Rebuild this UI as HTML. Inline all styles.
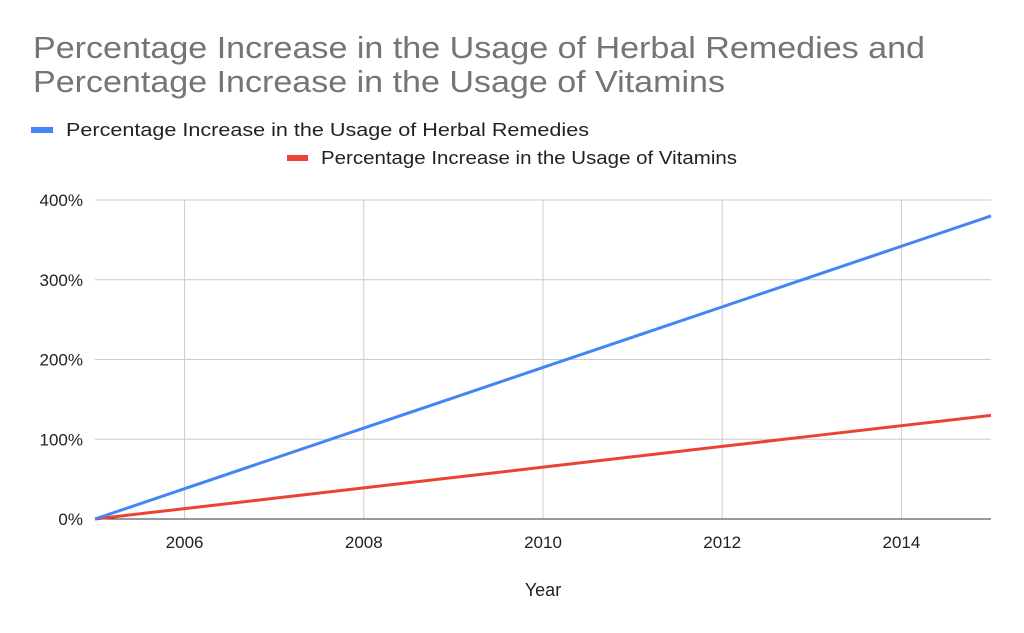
<!DOCTYPE html>
<html><head><meta charset="utf-8"><style>
body{margin:0;background:#fff;}
svg{display:block;font-family:"Liberation Sans",Arial,sans-serif;}
</style></head><body>
<svg id="chart" width="1024" height="633" viewBox="0 0 1024 633">
<rect width="1024" height="633" fill="#fff"/>
<text x="33" y="58" font-size="31" fill="#757575" textLength="892" lengthAdjust="spacingAndGlyphs">Percentage Increase in the Usage of Herbal Remedies and</text>
<text x="33" y="92" font-size="31" fill="#757575" textLength="692" lengthAdjust="spacingAndGlyphs">Percentage Increase in the Usage of Vitamins</text>
<g>
<rect x="31" y="127" width="22" height="6" fill="#4285f4"/>
<text x="66" y="136" font-size="18" fill="#222" textLength="523" lengthAdjust="spacingAndGlyphs">Percentage Increase in the Usage of Herbal Remedies</text>
</g>
<g>
<rect x="287" y="155" width="21" height="6" fill="#ea4335"/>
<text x="321" y="164" font-size="18" fill="#222" textLength="416" lengthAdjust="spacingAndGlyphs">Percentage Increase in the Usage of Vitamins</text>
</g>
<g id="grid"></g>
<g id="series"></g>
<text x="543" y="596" font-size="18" fill="#222" text-anchor="middle">Year</text>
</svg>
<script>
const years=[2005,2006,2007,2008,2009,2010,2011,2012,2013,2014,2015];
const herbal=[0,38,76,114,152,190,228,266,304,342,380];
const vitamins=[0,13,26,39,52,65,78,91,104,117,130];
const yTicks=[0,100,200,300,400];
const yTickLabels=['0%','100%','200%','300%','400%'];
const xTicks=[2006,2008,2010,2012,2014];
const NS='http://www.w3.org/2000/svg';
const X0=95,X1=991,Y0=519,Y1=200;
const xs=v=>X0+(v-2005)/(2015-2005)*(X1-X0);
const ys=v=>Y0-(v/400)*(Y0-Y1);
const grid=document.getElementById('grid'),ser=document.getElementById('series');
function mk(t,a,p){const e=document.createElementNS(NS,t);for(const k in a)e.setAttribute(k,a[k]);p.appendChild(e);return e;}
xTicks.forEach(t=>{
 const l=mk('line',{x1:xs(t),x2:xs(t),y1:Y1,y2:Y0,stroke:'#ccc','stroke-width':1},grid);
 
 
 const tx=mk('text',{x:xs(t),y:Y0+29,'font-size':17,fill:'#222','text-anchor':'middle'},grid);
 tx.textContent=t;
 
 
});
yTicks.forEach((t,i)=>{
 const l=mk('line',{x1:X0,x2:X1,y1:ys(t),y2:ys(t),stroke:t===0?'#333':'#ccc','stroke-width':1},grid);
 
 
 const tx=mk('text',{x:83,y:ys(t)+6,'font-size':17,fill:'#222','text-anchor':'end'},grid);
 tx.textContent=yTickLabels[i];
 
 
});
function line(vals,color,name){
 const p=mk('polyline',{points:vals.map((v,i)=>xs(years[i])+','+ys(v)).join(' '),fill:'none',stroke:color,'stroke-width':3,'stroke-linejoin':'round'},ser);
 
 
}
line(vitamins,'#ea4335','vitamins-line');
line(herbal,'#4285f4','herbal-remedies-line');
</script>
</body></html>
